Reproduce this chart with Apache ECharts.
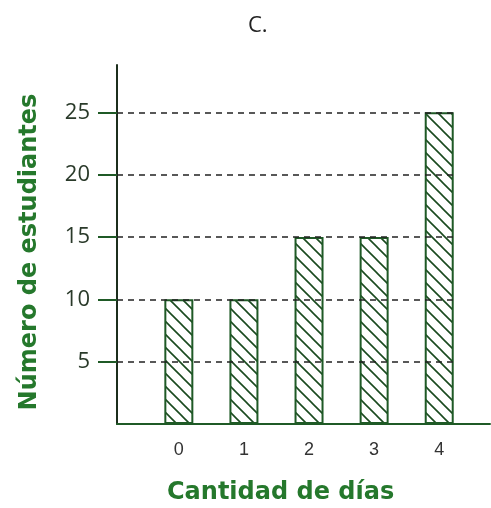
<!DOCTYPE html>
<html>
<head>
<meta charset="utf-8">
<script src="https://cdn.jsdelivr.net/npm/echarts@6/dist/echarts.min.js"></script>
<style>
  html, body { margin: 0; padding: 0; background: #fff; }
  #chart { width: 491px; height: 508px; }
</style>
</head>
<body>
<div id="chart"></div>
<script>
// data
var dias = [0, 1, 2, 3, 4];
var estudiantes = [10, 10, 15, 15, 25];
var yTicks = [5, 10, 15, 20, 25];

var green = '#1f5a26';
var nameGreen = '#25782c';

// hatch fill for the bars
function makeHatch() {
  var c = document.createElement('canvas');
  c.width = 13; c.height = 13;
  var ctx = c.getContext('2d');
  ctx.fillStyle = '#fff';
  ctx.fillRect(0, 0, 13, 13);
  ctx.strokeStyle = '#1a4a1f';
  ctx.lineWidth = 1.6;
  ctx.beginPath();
  ctx.moveTo(-2, -2); ctx.lineTo(15, 15);
  ctx.moveTo(-2, 11); ctx.lineTo(2, 15);
  ctx.moveTo(11, -2); ctx.lineTo(15, 2);
  ctx.stroke();
  return c;
}

var barData = dias.map(function (d, i) { return [d, estudiantes[i]]; });
var gridLines = yTicks.map(function (v) {
  return [{ coord: [-0.95, v] }, { coord: [4.21, v] }];
});

var chart = echarts.init(document.getElementById('chart'));

var option = {
  animation: false,
  title: {
    text: 'C.',
    left: 243,
    top: 10,
    textStyle: { color: '#222', fontSize: 22, fontWeight: 'normal', fontFamily: 'Open Sans' }
  },
  grid: { left: 117, right: 1, top: 65, bottom: 84 },
  xAxis: {
    type: 'value',
    min: -0.95,
    max: 4.78,
    splitLine: { show: false },
    axisTick: { show: false },
    axisLine: { onZero: false, lineStyle: { color: green, width: 2 } },
    axisLabel: {
      customValues: dias,
      color: '#333',
      fontSize: 18,
      margin: 17,
      fontFamily: 'Liberation Sans'
    }
  },
  yAxis: {
    type: 'value',
    min: 0,
    max: 28.8,
    splitLine: { show: false },
    axisLine: { show: true, onZero: false, lineStyle: { color: '#1c2e1c', width: 2 } },
    axisTick: {
      customValues: yTicks,
      length: 19,
      lineStyle: { color: green, width: 2 }
    },
    axisLabel: {
      customValues: yTicks,
      color: '#2a3a2a',
      fontSize: 22,
      margin: 27,
      fontFamily: 'Open Sans'
    }
  },
  graphic: [{
    type: 'text',
    x: 30,
    y: 252,
    rotation: Math.PI / 2,
    style: {
      text: 'Número de estudiantes',
      fill: nameGreen,
      align: 'center',
      verticalAlign: 'middle',
      font: 'bold 24px "DejaVu Sans"'
    }
  }, {
    type: 'text',
    left: 167,
    top: 481,
    style: {
      text: 'Cantidad de días',
      fill: nameGreen,
      font: 'bold 24px "DejaVu Sans"'
    }
  }],
  series: [{
    type: 'bar',
    data: barData,
    barWidth: 29,
    itemStyle: {
      color: { image: makeHatch(), repeat: 'repeat' },
      borderColor: green,
      borderWidth: 2
    },
    markLine: {
      silent: true,
      symbol: 'none',
      label: { show: false },
      lineStyle: { color: '#222', width: 1.5, type: [6, 5] },
      data: gridLines
    }
  }]
};

chart.setOption(option);
</script>
</body>
</html>
